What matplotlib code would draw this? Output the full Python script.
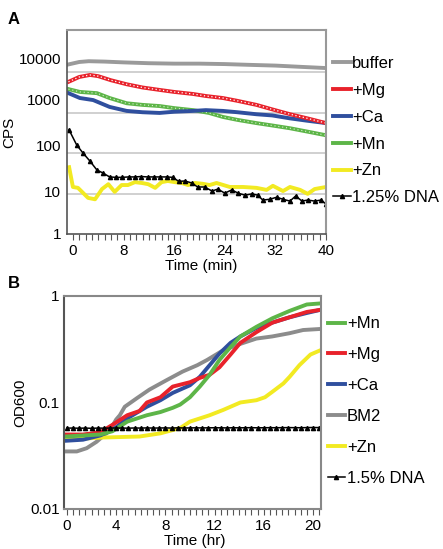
import numpy as np
import matplotlib
matplotlib.use("Agg")
import matplotlib.pyplot as plt
from matplotlib.ticker import FixedLocator, MultipleLocator, NullLocator
from matplotlib.transforms import ScaledTranslation

plt.rcParams['font.family'] = ['Liberation Sans', 'DejaVu Sans']

# -----------------------
# Panel A data (CPS vs time, min)
# -----------------------
buffer_t = [-0.7, 1, 2.5, 5, 8, 12, 16, 20, 24, 28, 32, 36, 40]
buffer_v = [15500, 17800, 18600, 18200, 17400, 16600, 16200, 16200, 15800, 15100, 14500, 13500, 12600]

mg_t = [-0.7, 1, 2.7, 4, 6, 8.5, 11, 13.7, 16, 19, 21, 23.7, 26, 29, 31.5, 34.3, 37, 40]
mg_v = [5750, 7590, 8510, 7940, 6310, 5010, 4170, 3630, 3240, 2880, 2570, 2290, 1950, 1550, 1200, 912, 724, 550]

ca_t = [-0.7, 1.1, 3.2, 5.8, 8.5, 11, 13.7, 16, 19, 21, 23.7, 26, 29, 31.5, 34.3, 37, 40]
ca_v = [3020, 2290, 2040, 1380, 1100, 1020, 980, 1050, 1100, 1150, 1100, 1020, 910, 850, 720, 630, 550]

mn_t = [-0.7, 1.1, 3.8, 5.8, 8.5, 11, 13.7, 16, 19, 21.5, 23.7, 26, 29, 31.5, 34.3, 37, 40]
mn_v = [3800, 3240, 3020, 2290, 1700, 1550, 1450, 1290, 1150, 980, 780, 660, 550, 480, 410, 340, 275]

zn_t = [-0.6, 0, 0.8, 2.4, 3.5, 4.6, 5.6, 6.6, 7.7, 8.7, 9.8, 10.9, 11.9, 13, 14, 15, 16.1, 17.2,
        18.2, 19.3, 20.5, 21.6, 22.7, 24.8, 26.9, 29, 30.6, 31.6, 33.2, 34.3, 35.9, 37.1, 38.2, 40]
zn_v = [44.7, 14.5, 13.8, 7.8, 7.2, 12.9, 17.0, 11.0, 16.2, 16.2, 19.1, 18.2, 17.0, 13.8, 19.1, 20.4, 19.1, 18.2,
        16.2, 18.2, 17.4, 16.2, 18.2, 14.5, 14.5, 13.8, 12.3, 15.5, 11.5, 14.5, 12.3, 9.8, 12.9, 14.5]

dna_t = [-0.6, 0.6, 1.6, 2.7, 3.8, 4.7, 5.8, 6.8, 7.8, 8.8, 9.8, 10.8, 11.8, 12.8, 13.8, 14.8, 15.8, 16.7,
         17.7, 18.8, 19.7, 20.8, 22, 22.9, 24, 25.1, 26.1, 27.2, 28.3, 29.2, 30, 31.1, 32.2, 33.2, 34.3,
         35.2, 36.2, 37.1, 38.2, 39.2, 40]
dna_v = [372, 158, 100, 63, 38, 32.4, 25.7, 25.1, 25.1, 25.7, 25.7, 26.3, 25.7, 25.7, 25.7, 25.7, 25.1, 20.0,
         20.4, 18.2, 14.5, 14.5, 11.5, 12.9, 10.2, 12.3, 10.2, 9.1, 9.8, 9.1, 6.9, 7.2, 8.1, 7.2, 6.5,
         8.7, 6.5, 6.9, 6.5, 6.9, 5.5]

# -----------------------
# Panel B data (OD600 vs time, hr)
# -----------------------
bm2_t = [-0.1, 0.8, 1.6, 2.4, 3.5, 4.0, 4.3, 4.7, 5.7, 6.7, 8.1, 9.4, 10.6, 11.4, 12.7, 14.1, 15.4, 16.7, 18.1, 19.2, 20.6]
bm2_v = [0.0347, 0.0347, 0.0372, 0.0427, 0.0550, 0.0692, 0.0759, 0.0912, 0.110, 0.132, 0.162, 0.195, 0.224,
         0.251, 0.309, 0.355, 0.398, 0.417, 0.447, 0.479, 0.490]

bmg_t = [-0.1, 1.3, 2.7, 3.7, 4.9, 5.9, 6.5, 7.6, 8.6, 10, 10.8, 11.6, 12.4, 13.3, 14.1, 15.4, 16.7, 18.1, 19.5, 20.6]
bmg_v = [0.050, 0.050, 0.0525, 0.0617, 0.0759, 0.0832, 0.100, 0.112, 0.141, 0.155, 0.170, 0.182, 0.214,
         0.282, 0.363, 0.457, 0.562, 0.631, 0.708, 0.741]

bca_t = [-0.1, 1.3, 2.7, 3.7, 4.9, 6.5, 7.6, 8.6, 10, 10.8, 11.6, 12.4, 13.3, 14.1, 15.4, 16.7, 18.1, 19.5, 20.6]
bca_v = [0.0437, 0.0447, 0.049, 0.055, 0.0708, 0.0912, 0.105, 0.123, 0.145, 0.174, 0.224, 0.288, 0.363,
         0.417, 0.501, 0.562, 0.631, 0.692, 0.741]

bmn_t = [-0.1, 2.7, 3.7, 4.9, 6.5, 7.6, 8.6, 9.2, 10, 10.8, 11.6, 12.4, 13.3, 14.1, 15.4, 16.7, 18.1, 19.5, 20.6]
bmn_v = [0.0479, 0.050, 0.0537, 0.0661, 0.0759, 0.0813, 0.0891, 0.0955, 0.112, 0.141, 0.182, 0.251, 0.331,
         0.417, 0.513, 0.617, 0.724, 0.832, 0.851]

bzn_t = [-0.1, 2.7, 5.9, 7.6, 9.2, 10, 10.8, 11.6, 12.7, 14.1, 15.4, 16.1, 16.7, 17.6, 18.1, 18.9, 19.8, 20.6]
bzn_v = [0.0447, 0.0468, 0.0479, 0.0513, 0.0575, 0.0661, 0.0708, 0.0759, 0.0851, 0.100, 0.105, 0.112,
         0.126, 0.151, 0.174, 0.224, 0.282, 0.309]

bdna_t = [0, 0.5, 1, 1.5, 2, 2.5, 3, 3.5, 4, 4.5, 5, 5.5, 6, 6.5, 7, 7.5, 8, 8.5, 9, 9.5, 10, 10.5,
          11, 11.5, 12, 12.5, 13, 13.5, 14, 14.5, 15, 15.5, 16, 16.5, 17, 17.5, 18, 18.5, 19, 19.5, 20, 20.5]
bdna_v = [0.0575, 0.0575, 0.0573, 0.0575, 0.0572, 0.0575, 0.0574, 0.0575, 0.0576, 0.0575, 0.0574, 0.0576,
          0.0575, 0.0577, 0.0575, 0.0576, 0.0577, 0.0575, 0.0578, 0.0576, 0.0577, 0.0578, 0.0577, 0.0578,
          0.0579, 0.0578, 0.0577, 0.0579, 0.0578, 0.0579, 0.0580, 0.0578, 0.0579, 0.0580, 0.0579, 0.0580,
          0.0581, 0.0580, 0.0579, 0.0581, 0.0582, 0.0581]

GRAY = '#9a9a9a'
RED = '#e8222b'
BLUE = '#2f4f9e'
GREEN = '#5db548'
YELLOW = '#f2ea22'

FS = 11
LFS = 12
TFS = 11

fig = plt.figure(figsize=(4.43, 5.49), dpi=100)

# -----------------------
# Panel A
# -----------------------
axA = fig.add_axes([0.151, 0.5738, 0.585, 0.3716])
axA.set_yscale('log')
axA.set_xlim(-0.95, 40)
axA.set_ylim(1, 1.1e5)
for g in [10, 100, 1000, 10000]:
    axA.axhline(g, color='#c8c8c8', lw=1.2, zorder=0)

axA.plot(buffer_t, buffer_v, color=GRAY, lw=2.8, label='buffer')
axA.plot(zn_t, zn_v, color=YELLOW, lw=2.8, label='+Zn')
axA.plot(mn_t, mn_v, color=GREEN, lw=2.8, label='+Mn')
axA.plot(mn_t, mn_v, color='#d8f0d0', lw=0.8, ls=(0, (1, 2.5)))
axA.plot(ca_t, ca_v, color=BLUE, lw=2.8, label='+Ca')
axA.plot(mg_t, mg_v, color=RED, lw=2.8, label='+Mg')
axA.plot(mg_t, mg_v, color='white', lw=0.9, ls=(0, (1, 2)))
axA.plot(dna_t, dna_v, color='black', lw=1.1, marker='^', ms=3, label='1.25% DNA')

ytA = [1, 10, 100, 1000, 10000]
axA.yaxis.set_major_locator(FixedLocator(ytA))
axA.yaxis.set_major_formatter(plt.FuncFormatter(lambda v, p: f'{int(round(v))}'))
axA.yaxis.set_minor_locator(NullLocator())
axA.tick_params(axis='y', length=0, pad=4, labelsize=TFS)
# the original labels sit a little above their gridlines
for lab, dy in zip(axA.get_yticklabels(), [0, 1.5, 5.5, 9.5, 10]):
    lab.set_transform(lab.get_transform() + ScaledTranslation(0, dy / 72, fig.dpi_scale_trans))
axA.xaxis.set_major_locator(MultipleLocator(8))
axA.xaxis.set_minor_locator(MultipleLocator(1))
axA.tick_params(axis='x', which='both', length=4, width=0.8, color='#555555', pad=3, labelsize=TFS)
for s in ['top', 'right']:
    axA.spines[s].set_color('#999999')
    axA.spines[s].set_linewidth(1.5)
for s in ['left', 'bottom']:
    axA.spines[s].set_color('#555555')
    axA.spines[s].set_linewidth(1.2)
axA.set_ylabel('CPS', fontsize=FS, labelpad=2)
axA.set_xlabel('Time (min)', fontsize=FS, labelpad=1, x=0.52)

hA, lA = axA.get_legend_handles_labels()
orderA = ['buffer', '+Mg', '+Ca', '+Mn', '+Zn', '1.25% DNA']
axA.legend([hA[lA.index(k)] for k in orderA], orderA, loc='upper left',
           bbox_to_anchor=(1.0, 0.905), frameon=False, fontsize=LFS,
           handlelength=1.08, handletextpad=0.1, labelspacing=0.71, borderaxespad=0)

fig.text(0.018, 0.978, 'A', fontsize=12, fontweight='bold', va='top')

# -----------------------
# Panel B
# -----------------------
axB = fig.add_axes([0.1445, 0.0729, 0.580, 0.388])
axB.set_yscale('log')
axB.set_xlim(-0.24, 20.65)
axB.set_ylim(0.01, 1)

axB.plot(bm2_t, bm2_v, color='#8c8c8c', lw=2.8, label='BM2')
axB.plot(bzn_t, bzn_v, color=YELLOW, lw=2.8, label='+Zn')
axB.plot(bca_t, bca_v, color=BLUE, lw=2.8, label='+Ca')
axB.plot(bmg_t, bmg_v, color=RED, lw=2.8, label='+Mg')
axB.plot(bmn_t, bmn_v, color=GREEN, lw=2.8, label='+Mn')
axB.plot(bdna_t, bdna_v, color='black', lw=1.1, marker='^', ms=3, label='1.5% DNA')

axB.yaxis.set_major_locator(FixedLocator([0.01, 0.1, 1]))
axB.yaxis.set_major_formatter(plt.FuncFormatter(lambda v, p: {0.01: '0.01', 0.1: '0.1', 1: '1'}.get(round(v, 2), '')))
axB.yaxis.set_minor_locator(NullLocator())
axB.tick_params(axis='y', length=0, pad=3, labelsize=TFS)
axB.xaxis.set_major_locator(MultipleLocator(4))
axB.xaxis.set_minor_locator(MultipleLocator(0.5))
axB.tick_params(axis='x', which='both', length=4, width=0.8, color='#555555', pad=3, labelsize=TFS)
for s in ['top', 'right', 'left', 'bottom']:
    axB.spines[s].set_color('#888888')
    axB.spines[s].set_linewidth(1.5)
axB.spines['left'].set_color('#555555')
axB.set_ylabel('OD600', fontsize=FS, labelpad=2)
axB.set_xlabel('Time (hr)', fontsize=FS, labelpad=1, x=0.51)

hB, lB = axB.get_legend_handles_labels()
orderB = ['+Mn', '+Mg', '+Ca', 'BM2', '+Zn', '1.5% DNA']
axB.legend([hB[lB.index(k)] for k in orderB], orderB, loc='upper left',
           bbox_to_anchor=(1.0, 0.935), frameon=False, fontsize=LFS,
           handlelength=1.05, handletextpad=0.1, labelspacing=0.95, borderaxespad=0)

fig.text(0.018, 0.497, 'B', fontsize=12, fontweight='bold', va='top')

plt.savefig('out.png', dpi=100)
